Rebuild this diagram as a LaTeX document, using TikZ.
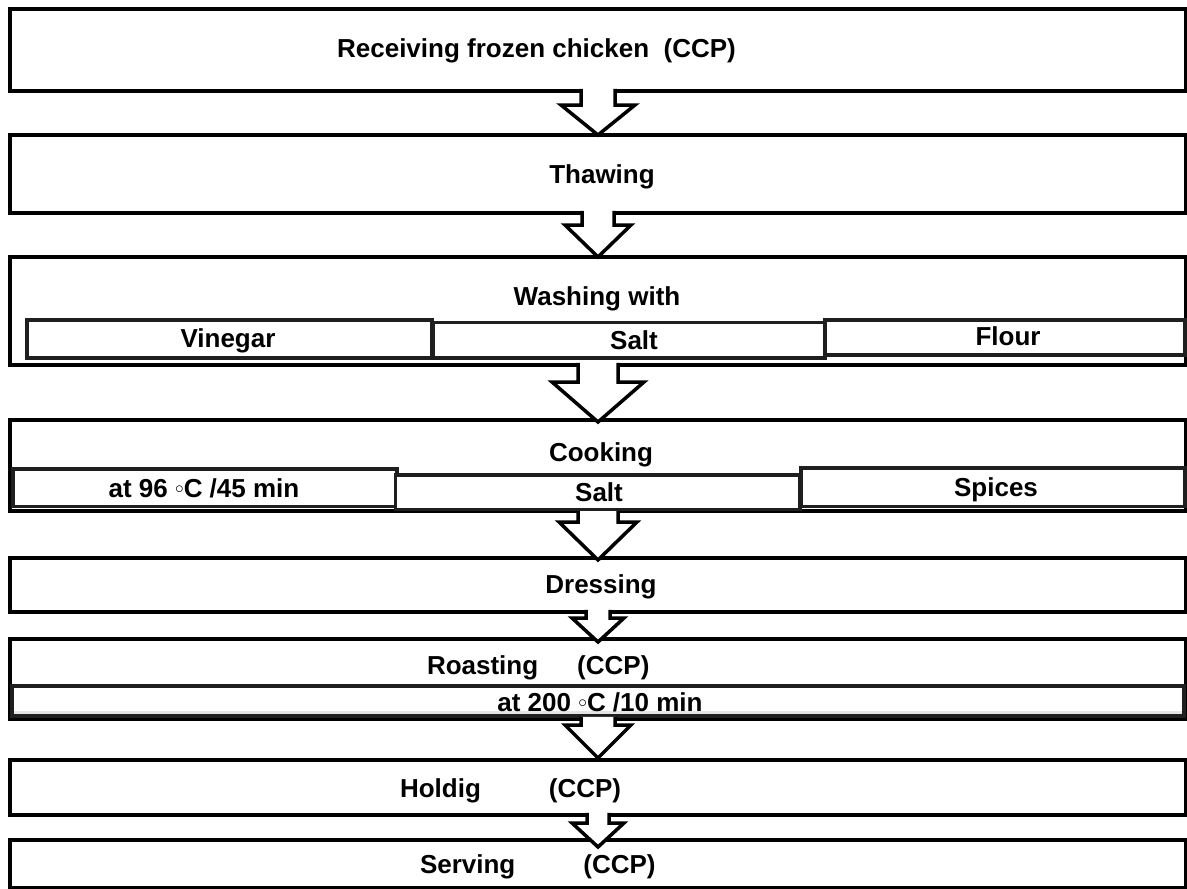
\documentclass[tikz,border=0pt]{standalone}
\usepackage{fontspec}
\setmainfont{Liberation Sans}
\usetikzlibrary{calc}
\tikzset{
  mainbox/.style={draw=black, line width=4pt, rectangle, fill=white, inner sep=0pt, outer sep=0pt, minimum width=1176pt},
  subbox/.style={draw=black!88, line width=3.5pt, rectangle, fill=white, inner sep=0pt, outer sep=0pt},
  lbl/.style={inner sep=0pt, outer sep=0pt, font=\fontsize{26}{30}\selectfont\bfseries, anchor=base},
  lblw/.style={lbl, anchor=base west},
  arrline/.style={line width=3.5pt, line join=miter, draw=black},
}
% #1 from node, #2 to node, #3 stem half width, #4 head half width, #5 shoulder drop, #6 tip extra drop
\newcommand\blockarr[6]{%
  \fill[white] let \p1=(#1.south), \p2=(#2.north) in
    (\x2-#3pt,\y1+2.2pt) -- (\x2-#3pt,\y1-#5pt) -- (\x2-#4pt,\y1-#5pt) -- (\x2,\y2-#6pt)
    -- (\x2+#4pt,\y1-#5pt) -- (\x2+#3pt,\y1-#5pt) -- (\x2+#3pt,\y1+2.2pt) -- cycle;
  \draw[arrline] let \p1=(#1.south), \p2=(#2.north) in
    (\x2-#3pt,\y1+2.2pt) -- (\x2-#3pt,\y1-#5pt) -- (\x2-#4pt,\y1-#5pt) -- (\x2,\y2-#6pt)
    -- (\x2+#4pt,\y1-#5pt) -- (\x2+#3pt,\y1-#5pt) -- (\x2+#3pt,\y1+2.2pt);
}
\newcommand\degring{\raisebox{4pt}{$\scriptstyle\circ$}}
\begin{document}
\begin{tikzpicture}[x=1pt,y=-1pt]
\useasboundingbox (0,0) rectangle (1187,889);
\fill[white] (0,0) rectangle (1187,889);

% main boxes
\node[mainbox, minimum height=82pt]  (b1) at (598,50) {};
\node[mainbox, minimum height=78pt]  (b2) at (598,174) {};
\node[mainbox, minimum height=108pt] (b3) at (598,311) {};
\node[mainbox, minimum height=91pt]  (b4) at (598,465.5) {};
\node[mainbox, minimum height=54pt]  (b5) at (598,585) {};
\node[mainbox, minimum height=80pt]  (b6) at (598,679) {};
\node[mainbox, minimum height=55pt]  (b7) at (598,787.5) {};
\node[mainbox, minimum height=48pt]  (b8) at (598,864) {};

% sub box of roasting (drawn before its arrow)
\node[subbox, minimum width=1172pt,  minimum height=30pt]   (s61) at (598,701) {};
\fill[black!10] (14,711.2) rectangle (1182,714.2);

% block arrows
\blockarr{b1}{b2}{17}{37}{14}{0}
\blockarr{b2}{b3}{16}{33}{12}{0}
\blockarr{b3}{b4}{20}{46}{17}{2}
\blockarr{b4}{b5}{20}{39}{11}{2}
\blockarr{b5}{b6}{12}{26}{6}{3}
\blockarr{b6}{b7}{17}{33}{6}{-2}
\blockarr{b7}{b8}{11}{26}{8}{7}

% other sub boxes
\node[subbox, minimum width=405pt,   minimum height=38pt]   (s31) at (229.5,339) {};
\node[subbox, minimum width=391.5pt, minimum height=35.5pt] (s32) at (629.25,340.25) {};
\node[subbox, minimum width=360pt,   minimum height=35pt]   (s33) at (1005,337.5) {};
\node[subbox, minimum width=384pt,   minimum height=37.5pt] (s41) at (205,487.75) {};
\node[subbox, minimum width=384pt,   minimum height=38.5pt] (s43) at (993,487.25) {};
\node[subbox, minimum width=404.5pt, minimum height=34.5pt] (s42) at (597.75,492.25) {};

% labels
\node[lbl] (t1) at (536.5,57) {Receiving frozen chicken\ \ (CCP)};
\node[lbl] (t2) at (602,183) {Thawing};
\node[lbl] (t3) at (597,305) {Washing with};
\node[lbl] (t31) at (228,347) {Vinegar};
\node[lbl] (t32) at (634,349) {Salt};
\node[lbl] (t33) at (1008,345) {Flour};
\node[lbl] (t4) at (601,461) {Cooking};
\node[lbl] (t41) at (204,497) {at 96 \degring C /45 min};
\node[lbl] (t42) at (599,501) {Salt};
\node[lbl] (t43) at (996,496) {Spices};
\node[lbl] (t5) at (601,593) {Dressing};
\node[lblw] (t6) at (427,674) {Roasting\hspace{39pt}(CCP)};
\node[lbl] (t61) at (600,711) {at 200 \degring C /10 min};
\node[lblw] (t7) at (400,797) {Holdig\hspace{68pt}(CCP)};
\node[lblw] (t8) at (420,873) {Serving\hspace{68pt}(CCP)};
\end{tikzpicture}
\end{document}
